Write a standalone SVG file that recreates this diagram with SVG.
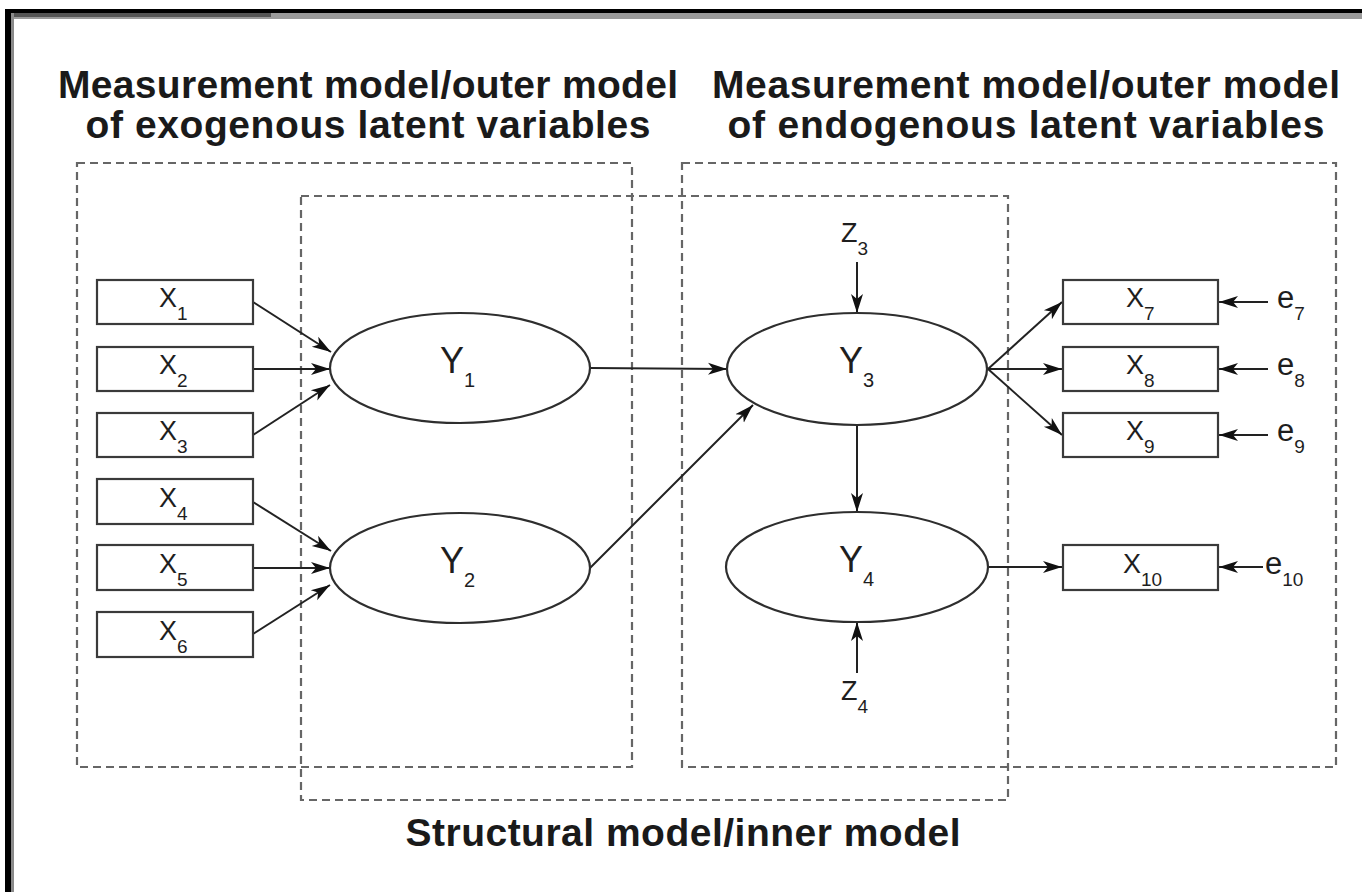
<svg xmlns="http://www.w3.org/2000/svg" width="1362" height="892" viewBox="0 0 1362 892">
<defs>
<marker id="ah" markerUnits="userSpaceOnUse" markerWidth="20" markerHeight="14" refX="19" refY="7" orient="auto">
<path d="M0,1 L19,7 L0,13 L5,7 z" fill="#111"/>
</marker>
</defs>
<style>
.bg{fill:#ffffff}
.dash{fill:none;stroke:#666;stroke-width:2.2;stroke-dasharray:8 5}
.box{fill:#fff;stroke:#3a3a3a;stroke-width:2.2}
.ell{fill:#fff;stroke:#2e2e2e;stroke-width:2.2}
.con{fill:none;stroke:#222;stroke-width:2;marker-end:url(#ah)}
.title{font-family:"Liberation Sans",Arial,sans-serif;font-weight:bold;font-size:39px;fill:#1a1a1a}
.lx{font-family:"Liberation Sans",Arial,sans-serif;font-size:27px;fill:#1e1e1e}
.ly{font-family:"Liberation Sans",Arial,sans-serif;font-size:36px;fill:#1e1e1e}
.lz{font-family:"Liberation Sans",Arial,sans-serif;font-size:27px;fill:#1e1e1e}
.le{font-family:"Liberation Sans",Arial,sans-serif;font-size:31px;fill:#1e1e1e}
.sub{font-size:19px}
.suby{font-size:20px}
</style>
<rect class="bg" x="0" y="0" width="1362" height="892"/>
<g id="frame">
<rect x="5" y="9" width="1357" height="4" fill="#000"/>
<rect x="11" y="13" width="1351" height="6" fill="#9a9a9a"/>
<rect x="11" y="13" width="260" height="4" fill="#555"/>
<rect x="5" y="9" width="6" height="883" fill="#000"/>
<rect x="11" y="13" width="3" height="879" fill="#8a8a8a"/>
</g>
<g id="titles">
<text class="title" x="368" y="98" text-anchor="middle" textLength="620">Measurement model/outer model</text>
<text class="title" x="368" y="138" text-anchor="middle" textLength="565">of exogenous latent variables</text>
<text class="title" x="1026" y="98" text-anchor="middle" textLength="628">Measurement model/outer model</text>
<text class="title" x="1026" y="138" text-anchor="middle" textLength="597">of endogenous latent variables</text>
<text class="title" x="683" y="846" text-anchor="middle" textLength="555">Structural model/inner model</text>
</g>
<g id="regions">
<rect id="exo-region" class="dash" x="77" y="163" width="555" height="604"/>
<rect id="endo-region" class="dash" x="682" y="163" width="654" height="604"/>
<rect id="structural-region" class="dash" x="301" y="196" width="707" height="604"/>
</g>
<g id="connectors">
<line class="con" x1="253" y1="302" x2="331" y2="352"/>
<line class="con" x1="253" y1="369" x2="330" y2="369"/>
<line class="con" x1="253" y1="435" x2="330" y2="385"/>
<line class="con" x1="253" y1="502" x2="331" y2="551"/>
<line class="con" x1="253" y1="568" x2="330" y2="568"/>
<line class="con" x1="253" y1="634" x2="330" y2="585"/>
<line class="con" x1="590" y1="368" x2="727" y2="369"/>
<line class="con" x1="590" y1="568" x2="753" y2="405"/>
<line class="con" x1="857" y1="262" x2="857" y2="313"/>
<line class="con" x1="857" y1="425" x2="857" y2="512"/>
<line class="con" x1="857" y1="673" x2="857" y2="622"/>
<line class="con" x1="988" y1="369" x2="1062" y2="302"/>
<line class="con" x1="988" y1="369" x2="1062" y2="369"/>
<line class="con" x1="988" y1="369" x2="1062" y2="435"/>
<line class="con" x1="988" y1="567" x2="1062" y2="567"/>
<line class="con" x1="1268" y1="302" x2="1219" y2="302"/>
<line class="con" x1="1268" y1="369" x2="1219" y2="369"/>
<line class="con" x1="1268" y1="435" x2="1219" y2="435"/>
<line class="con" x1="1263" y1="567" x2="1219" y2="567"/>
</g>
<g id="X1"><rect class="box" x="97" y="280" width="156" height="44"/><text class="lx" x="159" y="307">X<tspan class="sub" dy="13">1</tspan></text></g>
<g id="X2"><rect class="box" x="97" y="347" width="156" height="44"/><text class="lx" x="159" y="374">X<tspan class="sub" dy="13">2</tspan></text></g>
<g id="X3"><rect class="box" x="97" y="413" width="156" height="44"/><text class="lx" x="159" y="440">X<tspan class="sub" dy="13">3</tspan></text></g>
<g id="X4"><rect class="box" x="97" y="479" width="156" height="45"/><text class="lx" x="159" y="507">X<tspan class="sub" dy="13">4</tspan></text></g>
<g id="X5"><rect class="box" x="97" y="545" width="156" height="45"/><text class="lx" x="159" y="573">X<tspan class="sub" dy="13">5</tspan></text></g>
<g id="X6"><rect class="box" x="97" y="612" width="156" height="45"/><text class="lx" x="159" y="640">X<tspan class="sub" dy="13">6</tspan></text></g>
<g id="X7"><rect class="box" x="1063" y="280" width="155" height="44"/><text class="lx" x="1126" y="307">X<tspan class="sub" dy="13">7</tspan></text></g>
<g id="X8"><rect class="box" x="1063" y="347" width="155" height="44"/><text class="lx" x="1126" y="374">X<tspan class="sub" dy="13">8</tspan></text></g>
<g id="X9"><rect class="box" x="1063" y="413" width="155" height="44"/><text class="lx" x="1126" y="440">X<tspan class="sub" dy="13">9</tspan></text></g>
<g id="X10"><rect class="box" x="1063" y="545" width="155" height="45"/><text class="lx" x="1123" y="573">X<tspan class="sub" dy="13">10</tspan></text></g>
<g id="Y1"><ellipse class="ell" cx="460" cy="368" rx="130" ry="55"/><text class="ly" x="440" y="373">Y<tspan class="suby" dy="14">1</tspan></text></g>
<g id="Y2"><ellipse class="ell" cx="460" cy="568" rx="130" ry="55"/><text class="ly" x="440" y="573">Y<tspan class="suby" dy="14">2</tspan></text></g>
<g id="Y3"><ellipse class="ell" cx="857" cy="369" rx="130" ry="56"/><text class="ly" x="839" y="373">Y<tspan class="suby" dy="14">3</tspan></text></g>
<g id="Y4"><ellipse class="ell" cx="857" cy="567" rx="131" ry="55"/><text class="ly" x="839" y="572">Y<tspan class="suby" dy="14">4</tspan></text></g>
<g id="Z3"><text class="lz" x="841" y="242">Z<tspan class="sub" dy="13">3</tspan></text></g>
<g id="Z4"><text class="lz" x="841" y="700">Z<tspan class="sub" dy="13">4</tspan></text></g>
<g id="e7"><text class="le" x="1277" y="308">e<tspan class="sub" dy="12">7</tspan></text></g>
<g id="e8"><text class="le" x="1277" y="375">e<tspan class="sub" dy="12">8</tspan></text></g>
<g id="e9"><text class="le" x="1277" y="441">e<tspan class="sub" dy="12">9</tspan></text></g>
<g id="e10"><text class="le" x="1265" y="574">e<tspan class="sub" dy="12">10</tspan></text></g>
</svg>
